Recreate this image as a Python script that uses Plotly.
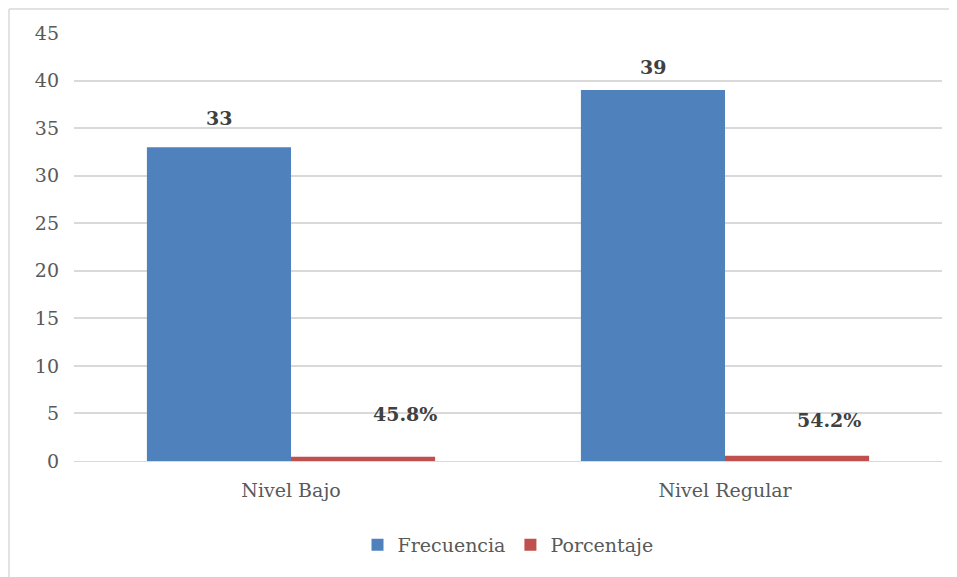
import plotly.graph_objects as go

categories = ["Nivel Bajo", "Nivel Regular"]
frecuencia = [33, 39]
porcentaje = [0.458, 0.542]
porcentaje_labels = ["45.8%", "54.2%"]
y_ticks = [0, 5, 10, 15, 20, 25, 30, 35, 40, 45]

BLUE = "#4F81BD"
RED = "#C0504D"
FONT = "DejaVu Serif"

fig = go.Figure()
fig.add_trace(go.Bar(name="Frecuencia", x=categories, y=frecuencia,
                     marker=dict(color=BLUE, line=dict(width=0))))
fig.add_trace(go.Bar(name="Porcentaje", x=categories, y=porcentaje,
                     marker=dict(color=RED, line=dict(width=0))))

# data labels (manually offset like the original)
freq_shift = [(0, 16), (0, 10)]
pct_shift = [(42, 30), (32, 23)]
for i, c in enumerate(categories):
    fig.add_annotation(x=c, y=frecuencia[i], xref="x", yref="y", text=str(frecuencia[i]),
                       showarrow=False, xshift=-72 + freq_shift[i][0], yshift=freq_shift[i][1],
                       yanchor="bottom",
                       font=dict(family=FONT, size=19, color="#404040", weight="bold"))
    fig.add_annotation(x=c, y=porcentaje[i], xref="x", yref="y", text=porcentaje_labels[i],
                       showarrow=False, xshift=72 + pct_shift[i][0], yshift=pct_shift[i][1],
                       yanchor="bottom",
                       font=dict(family=FONT, size=19, color="#404040", weight="bold"))

# chart border (top and left edges visible)
fig.add_shape(type="line", xref="paper", yref="paper", x0=-0.0749, x1=1.03, y0=1.056, y1=1.056,
              line=dict(color="#D9D9D9", width=1.5))
fig.add_shape(type="line", xref="paper", yref="paper", x0=-0.0749, x1=-0.0749, y0=-0.3, y1=1.056,
              line=dict(color="#D9D9D9", width=1.5))

fig.update_layout(
    width=949, height=569,
    margin=dict(l=66, r=15, t=25, b=116),
    paper_bgcolor="white", plot_bgcolor="white",
    barmode="group", bargap=0.336, bargroupgap=0,
    font=dict(family=FONT, size=19, color="#595959"),
    showlegend=True,
    legend=dict(orientation="h", x=0.5, xanchor="center", y=-0.196, yanchor="middle",
                font=dict(family=FONT, size=19, color="#595959"), traceorder="normal",
                itemwidth=30),
    xaxis=dict(showgrid=False, showline=True, linecolor="#D9D9D9", linewidth=1,
               ticks="", ticklabelstandoff=12, tickfont=dict(size=19, color="#595959")),
    yaxis=dict(range=[0, 45], tickvals=y_ticks, showgrid=True, gridcolor="#D9D9D9", gridwidth=1.5,
               zeroline=False, showline=False, ticks="", ticklabelstandoff=14,
               tickfont=dict(size=19, color="#595959")),
)

fig.write_html("out.html")
